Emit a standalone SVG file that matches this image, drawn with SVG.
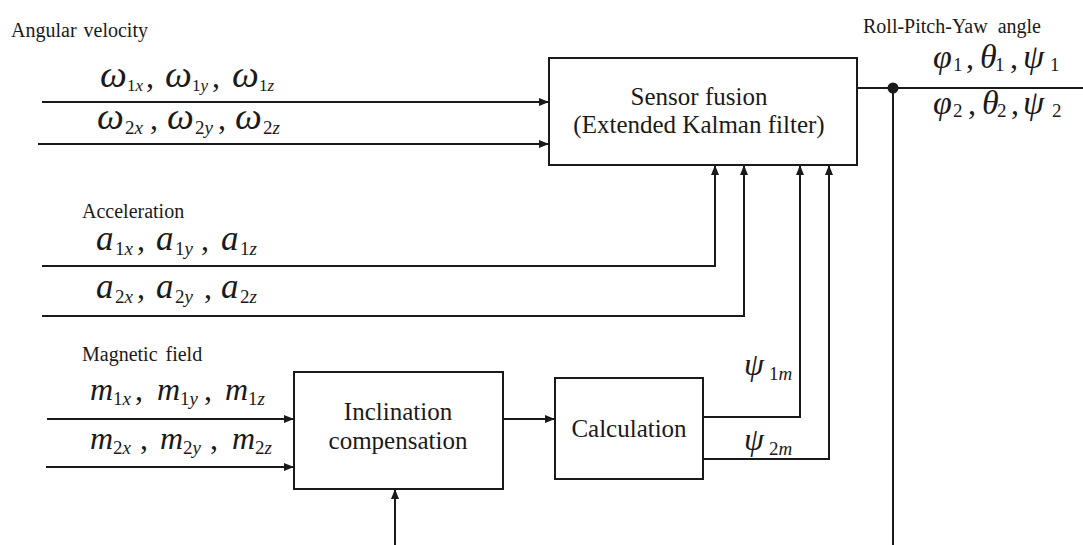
<svg xmlns="http://www.w3.org/2000/svg" width="1083" height="545" viewBox="0 0 1083 545">
  <defs>
    <style>
      .box { fill: #fff; stroke: #1a1a1a; stroke-width: 2; }
      .wire { fill: none; stroke: #1a1a1a; stroke-width: 2; }
      .lbl { font-size: 20px; fill: #1a1a1a; }
      .blk { font-size: 25px; fill: #1a1a1a; text-anchor: middle; }
      .m { font-size: 32px; fill: #1a1a1a; }
      .w { font-size: 38px; }
      .g { font-size: 34px; }
      .A { font-size: 35px; }
      .it { font-style: italic; }
      .sub { font-size: 19px; }
      .ws { font-size: 17px; }
    </style>
    <marker id="arr" markerUnits="userSpaceOnUse" markerWidth="10" markerHeight="8" refX="10" refY="4" orient="auto">
      <path d="M0,0 L10,4 L0,8 z" fill="#1a1a1a"/>
    </marker>
  </defs>
  <rect width="1083" height="545" fill="#fff"/>

  <!-- connectors -->
  <g id="connectors">
    <path class="wire" d="M42,102 H549" marker-end="url(#arr)"/>
    <path class="wire" d="M38,144 H549" marker-end="url(#arr)"/>
    <path class="wire" d="M42,266 H715 V165" marker-end="url(#arr)"/>
    <path class="wire" d="M42,316 H744 V165" marker-end="url(#arr)"/>
    <path class="wire" d="M703,417 H800 V165" marker-end="url(#arr)"/>
    <path class="wire" d="M703,459 H829 V165" marker-end="url(#arr)"/>
    <path class="wire" d="M47,419 H294" marker-end="url(#arr)"/>
    <path class="wire" d="M46,467 H294" marker-end="url(#arr)"/>
    <path class="wire" d="M503,419 H555" marker-end="url(#arr)"/>
    <path class="wire" d="M395,545 V489" marker-end="url(#arr)"/>
    <path class="wire" d="M857,88 H1083"/>
    <path class="wire" d="M893,88 V545"/>
    <circle cx="893" cy="88" r="5.5" fill="#1a1a1a"/>
  </g>

  <!-- blocks -->
  <g id="sensor-fusion" font-family="Liberation Serif, serif">
    <rect class="box" x="549" y="58" width="308" height="107"/>
    <text class="blk" x="699" y="105">Sensor fusion</text>
    <text class="blk" x="699" y="133">(Extended Kalman filter)</text>
  </g>
  <g id="inclination-compensation" font-family="Liberation Serif, serif">
    <rect class="box" x="294" y="372" width="209" height="117"/>
    <text class="blk" x="398" y="420">Inclination</text>
    <text class="blk" x="398" y="449">compensation</text>
  </g>
  <g id="calculation" font-family="Liberation Serif, serif">
    <rect class="box" x="555" y="378" width="148" height="101"/>
    <text class="blk" x="629" y="437">Calculation</text>
  </g>

  <!-- group labels -->
  <g id="labels" font-family="Liberation Serif, serif">
    <text class="lbl" x="11" y="37" word-spacing="2">Angular velocity</text>
    <text class="lbl" x="82" y="218">Acceleration</text>
    <text class="lbl" x="82" y="361" word-spacing="3">Magnetic field</text>
    <text class="lbl" x="863" y="33" word-spacing="5">Roll-Pitch-Yaw angle</text>
  </g>

  <!-- signal symbols -->
  <g id="signals" font-family="Liberation Serif, serif">
    <!-- angular velocity -->
    <text class="m"><tspan class="it w" x="100" y="87">ω</tspan><tspan class="ws" x="127" y="91">1</tspan><tspan class="ws it">x</tspan><tspan x="146" y="87">,</tspan><tspan class="it w" x="165" y="87">ω</tspan><tspan class="ws" x="192" y="91">1</tspan><tspan class="ws it">y</tspan><tspan x="212" y="87">,</tspan><tspan class="it w" x="232" y="87">ω</tspan><tspan class="ws" x="259" y="91">1</tspan><tspan class="ws it">z</tspan></text>
    <text class="m"><tspan class="it w" x="97" y="129">ω</tspan><tspan class="sub" x="125" y="134">2</tspan><tspan class="sub it">x</tspan><tspan x="150" y="129">,</tspan><tspan class="it w" x="167" y="129">ω</tspan><tspan class="sub" x="195" y="134">2</tspan><tspan class="sub it">y</tspan><tspan x="218" y="129">,</tspan><tspan class="it w" x="235" y="129">ω</tspan><tspan class="sub" x="263" y="134">2</tspan><tspan class="sub it">z</tspan></text>

    <!-- acceleration -->
    <text class="m"><tspan class="it A" x="96" y="250">a</tspan><tspan class="sub" x="115" y="255">1</tspan><tspan class="sub it">x</tspan><tspan x="137" y="250">,</tspan><tspan class="it A" x="156" y="250">a</tspan><tspan class="sub" x="175" y="255">1</tspan><tspan class="sub it">y</tspan><tspan x="201" y="250">,</tspan><tspan class="it A" x="221" y="250">a</tspan><tspan class="sub" x="240" y="255">1</tspan><tspan class="sub it">z</tspan></text>
    <text class="m"><tspan class="it A" x="96" y="298">a</tspan><tspan class="sub" x="115" y="303">2</tspan><tspan class="sub it">x</tspan><tspan x="137" y="298">,</tspan><tspan class="it A" x="156" y="298">a</tspan><tspan class="sub" x="175" y="303">2</tspan><tspan class="sub it">y</tspan><tspan x="204" y="298">,</tspan><tspan class="it A" x="221" y="298">a</tspan><tspan class="sub" x="240" y="303">2</tspan><tspan class="sub it">z</tspan></text>

    <!-- magnetic field -->
    <text class="m"><tspan class="it" x="90" y="400">m</tspan><tspan class="sub" x="113" y="405">1</tspan><tspan class="sub it">x</tspan><tspan x="135" y="400">,</tspan><tspan class="it" x="157" y="400">m</tspan><tspan class="sub" x="180" y="405">1</tspan><tspan class="sub it">y</tspan><tspan x="204" y="400">,</tspan><tspan class="it" x="225" y="400">m</tspan><tspan class="sub" x="248" y="405">1</tspan><tspan class="sub it">z</tspan></text>
    <text class="m"><tspan class="it" x="90" y="449">m</tspan><tspan class="sub" x="113" y="454">2</tspan><tspan class="sub it">x</tspan><tspan x="140" y="449">,</tspan><tspan class="it" x="160" y="449">m</tspan><tspan class="sub" x="183" y="454">2</tspan><tspan class="sub it">y</tspan><tspan x="210" y="449">,</tspan><tspan class="it" x="232" y="449">m</tspan><tspan class="sub" x="255" y="454">2</tspan><tspan class="sub it">z</tspan></text>

    <!-- roll-pitch-yaw -->
    <text class="m"><tspan class="it g" x="933" y="68">φ</tspan><tspan class="sub" x="953" y="71">1</tspan><tspan x="966" y="68">,</tspan><tspan class="it g" x="980" y="68">θ</tspan><tspan class="sub" x="995" y="71">1</tspan><tspan x="1010" y="68">,</tspan><tspan class="it g" x="1023" y="68">ψ</tspan><tspan class="sub" x="1050" y="71">1</tspan></text>
    <text class="m"><tspan class="it g" x="933" y="114">φ</tspan><tspan class="sub" x="953" y="117">2</tspan><tspan x="968" y="114">,</tspan><tspan class="it g" x="982" y="114">θ</tspan><tspan class="sub" x="997" y="117">2</tspan><tspan x="1011" y="114">,</tspan><tspan class="it g" x="1023" y="114">ψ</tspan><tspan class="sub" x="1052" y="117">2</tspan></text>

    <!-- magnetic heading -->
    <text class="m"><tspan class="it" x="744" y="375">ψ</tspan><tspan class="sub" x="769" y="380">1</tspan><tspan class="sub it">m</tspan></text>
    <text class="m"><tspan class="it" x="744" y="450">ψ</tspan><tspan class="sub" x="769" y="455">2</tspan><tspan class="sub it">m</tspan></text>
  </g>
</svg>
